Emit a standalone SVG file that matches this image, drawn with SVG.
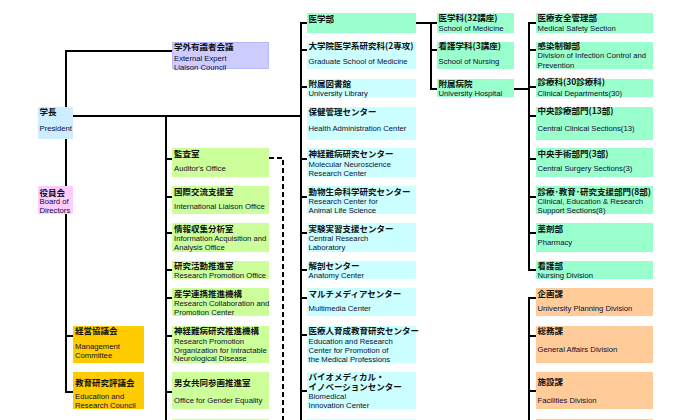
<svg xmlns="http://www.w3.org/2000/svg" width="700" height="420" viewBox="0 0 700 420">
<style>
.jp{font-family:"Noto Sans CJK JP","Noto Sans CJK SC",sans-serif;font-size:8.5px;font-weight:bold;fill:#111}
.en{font-family:"Liberation Sans",Arial,sans-serif;font-size:7.7px;fill:#0d0d33}
.lav{fill:#ccccff;stroke:#b8b8ff;stroke-width:1}
.pres{fill:#cceeff}
.pink{fill:#ffccff}
.gold{fill:#ffcc00}
.grn{fill:#ccff99}
.cyan{fill:#ccffff}
.mint{fill:#99ffcc}
.peach{fill:#ffcc99}
.ln{fill:none;stroke:#000;stroke-width:2}
.dash{fill:none;stroke:#000;stroke-width:2;stroke-dasharray:5,3}
</style>
<rect width="700" height="420" fill="#fff"/>
<g id="connectors">
<path class="ln" d="M66,107 V51 H172"/>
<path class="ln" d="M73,116 H301"/>
<path class="ln" d="M66,139 V392 H73 M66,336 H73"/>
<path class="ln" d="M166,116 V420 M166,159 H172 M166,197 H172 M166,233 H172 M166,270 H172 M166,298 H172 M166,336 H172 M166,392 H172"/>
<path class="dash" d="M269,158 H283 V420"/>
<path class="ln" d="M307,23 H301 V420 M301,50 H307 M301,87 H307 M301,159 H307 M301,197 H307 M301,233 H307 M301,270 H307 M301,298 H307 M301,335 H307 M301,391 H307"/>
<path class="ln" d="M416,23 H437 M431,23 V89 H437 M431,50 H437"/>
<path class="ln" d="M514,89 H529 M536,23 H529 V270 H536 M529,50 H536 M529,87 H536 M529,116 H536 M529,159 H536 M529,197 H536 M529,233 H536"/>
<path class="ln" d="M536,298 H529 V420 M529,336 H536 M529,391 H536"/>
</g>
<g id="n-gakugai"><rect class="lav" x="172.5" y="42.5" width="96" height="26"/><text class="jp" x="174" y="49.5">学外有識者会議</text><text class="en" x="174" y="61">External Expert</text><text class="en" x="174" y="69.5">Liaison Council</text></g>
<g id="n-president"><rect class="pres" x="38" y="107" width="35" height="32"/><text class="jp" x="39.5" y="115">学長</text><text class="en" x="39.5" y="131">President</text></g>
<g id="n-board"><rect class="pink" x="38" y="186" width="35" height="28"/><text class="jp" x="39.5" y="195.5">役員会</text><text class="en" x="39.5" y="203.5">Board of</text><text class="en" x="39.5" y="212.5">Directors</text></g>
<g id="n-keiei"><rect class="gold" x="73" y="326" width="71" height="37"/><text class="jp" x="75" y="334">経営協議会</text><text class="en" x="75" y="348.5">Management</text><text class="en" x="75" y="357.5">Committee</text></g>
<g id="n-kyoiku"><rect class="gold" x="73" y="372" width="71" height="37"/><text class="jp" x="75" y="385.5">教育研究評議会</text><text class="en" x="75" y="398.5">Education and</text><text class="en" x="75" y="408">Research Council</text></g>

<g id="n-kansa"><rect class="grn" x="172" y="148" width="97" height="29"/><text class="jp" x="174" y="157">監査室</text><text class="en" x="174" y="171">Auditor's Office</text></g>
<g id="n-kokusai"><rect class="grn" x="172" y="186" width="97" height="28"/><text class="jp" x="174" y="195">国際交流支援室</text><text class="en" x="174" y="208.5">International Liaison Office</text></g>
<g id="n-joho"><rect class="grn" x="172" y="223" width="97" height="29"/><text class="jp" x="174" y="232">情報収集分析室</text><text class="en" x="174" y="241">Information Acquisition and</text><text class="en" x="174" y="250">Analysis Office</text></g>
<g id="n-kenkyu"><rect class="grn" x="172" y="261" width="97" height="18"/><text class="jp" x="174" y="269">研究活動推進室</text><text class="en" x="174" y="278">Research Promotion Office</text></g>
<g id="n-sangaku"><rect class="grn" x="172" y="288" width="97" height="28"/><text class="jp" x="174" y="297">産学連携推進機構</text><text class="en" x="174" y="306">Research Collaboration and</text><text class="en" x="174" y="315">Promotion Center</text></g>
<g id="n-shinkei-suishin"><rect class="grn" x="172" y="326" width="97" height="37"/><text class="jp" x="174" y="334">神経難病研究推進機構</text><text class="en" x="174" y="344">Research Promotion</text><text class="en" x="174" y="352.5">Organization for Intractable</text><text class="en" x="174" y="361">Neurological Disease</text></g>
<g id="n-danjo"><rect class="grn" x="172" y="372" width="97" height="37"/><text class="jp" x="174" y="385.5">男女共同参画推進室</text><text class="en" x="174" y="403">Office for Gender Equality</text></g>
<g id="n-green-next"><rect class="grn" x="172" y="419" width="97" height="10"/></g>

<g id="n-igakubu"><rect class="mint" x="307" y="13" width="109" height="20"/><text class="jp" x="308.5" y="22">医学部</text></g>
<g id="n-daigakuin"><rect class="cyan" x="307" y="42" width="109" height="27"/><text class="jp" x="308.5" y="49">大学院医学系研究科(2専攻)</text><text class="en" x="308.5" y="63.5">Graduate School of Medicine</text></g>
<g id="n-library"><rect class="cyan" x="307" y="79" width="109" height="18"/><text class="jp" x="308.5" y="86.5">附属図書館</text><text class="en" x="308.5" y="95.5">University Library</text></g>
<g id="n-hoken"><rect class="cyan" x="307" y="107" width="109" height="33"/><text class="jp" x="308.5" y="115">保健管理センター</text><text class="en" x="308.5" y="130.5">Health Administration Center</text></g>
<g id="n-shinkei"><rect class="cyan" x="307" y="148" width="109" height="29"/><text class="jp" x="308.5" y="157">神経難病研究センター</text><text class="en" x="308.5" y="167">Molecular Neuroscience</text><text class="en" x="308.5" y="176">Research Center</text></g>
<g id="n-dobutsu"><rect class="cyan" x="307" y="186" width="109" height="28"/><text class="jp" x="308.5" y="195">動物生命科学研究センター</text><text class="en" x="308.5" y="203.5">Research Center for</text><text class="en" x="308.5" y="212.5">Animal Life Science</text></g>
<g id="n-jikken"><rect class="cyan" x="307" y="223" width="109" height="29"/><text class="jp" x="308.5" y="232">実験実習支援センター</text><text class="en" x="308.5" y="241">Central Research</text><text class="en" x="308.5" y="250">Laboratory</text></g>
<g id="n-kaibo"><rect class="cyan" x="307" y="261" width="109" height="18"/><text class="jp" x="308.5" y="269">解剖センター</text><text class="en" x="308.5" y="278">Anatomy Center</text></g>
<g id="n-multimedia"><rect class="cyan" x="307" y="288" width="109" height="28"/><text class="jp" x="308.5" y="297">マルチメディアセンター</text><text class="en" x="308.5" y="310.5">Multimedia Center</text></g>
<g id="n-iryojin"><rect class="cyan" x="307" y="326" width="109" height="37"/><text class="jp" x="308.5" y="334">医療人育成教育研究センター</text><text class="en" x="308.5" y="344">Education and Research</text><text class="en" x="308.5" y="353">Center for Promotion of</text><text class="en" x="308.5" y="362">the Medical Professions</text></g>
<g id="n-bio"><rect class="cyan" x="307" y="372" width="109" height="37"/><text class="jp" x="308.5" y="379.5">バイオメディカル・</text><text class="jp" x="308.5" y="390">イノベーションセンター</text><text class="en" x="308.5" y="399">Biomedical</text><text class="en" x="308.5" y="408">Innovation Center</text></g>
<g id="n-cyan-next"><rect class="cyan" x="307" y="419" width="109" height="10"/></g>

<g id="n-igakuka"><rect class="mint" x="437" y="13" width="77" height="20"/><text class="jp" x="438.5" y="21">医学科(32講座)</text><text class="en" x="438.5" y="30.5">School of Medicine</text></g>
<g id="n-kango"><rect class="mint" x="437" y="42" width="77" height="27"/><text class="jp" x="438.5" y="49">看護学科(3講座)</text><text class="en" x="438.5" y="63.5">School of Nursing</text></g>
<g id="n-hospital"><rect class="mint" x="437" y="79" width="77" height="18"/><text class="jp" x="438.5" y="86.5">附属病院</text><text class="en" x="438.5" y="95.5">University Hospital</text></g>

<g id="n-anzen"><rect class="mint" x="536" y="13" width="117" height="20"/><text class="jp" x="537.5" y="20.5">医療安全管理部</text><text class="en" x="537.5" y="30.5">Medical Safety Section</text></g>
<g id="n-kansen"><rect class="mint" x="536" y="42" width="117" height="27"/><text class="jp" x="537.5" y="49">感染制御部</text><text class="en" x="537.5" y="58">Division of Infection Control and</text><text class="en" x="537.5" y="67.5">Prevention</text></g>
<g id="n-shinryoka"><rect class="mint" x="536" y="79" width="117" height="18"/><text class="jp" x="537.5" y="85">診療科(30診療科)</text><text class="en" x="537.5" y="95.5">Clinical Departments(30)</text></g>
<g id="n-chuo-shinryo"><rect class="mint" x="536" y="107" width="117" height="33"/><text class="jp" x="537.5" y="114">中央診療部門(13部)</text><text class="en" x="537.5" y="130.5">Central Clinical Sections(13)</text></g>
<g id="n-chuo-shujutsu"><rect class="mint" x="536" y="148" width="117" height="29"/><text class="jp" x="537.5" y="157">中央手術部門(3部)</text><text class="en" x="537.5" y="170.5">Central Surgery Sections(3)</text></g>
<g id="n-shien"><rect class="mint" x="536" y="186" width="117" height="28"/><text class="jp" x="537.5" y="195">診療･教育･研究支援部門(8部)</text><text class="en" x="537.5" y="203.5">Clinical, Education &amp; Research</text><text class="en" x="537.5" y="212.5">Support Sections(8)</text></g>
<g id="n-yakuzai"><rect class="mint" x="536" y="223" width="117" height="29"/><text class="jp" x="537.5" y="232">薬剤部</text><text class="en" x="537.5" y="245">Pharmacy</text></g>
<g id="n-kangobu"><rect class="mint" x="536" y="261" width="117" height="18"/><text class="jp" x="537.5" y="269">看護部</text><text class="en" x="537.5" y="278">Nursing Division</text></g>

<g id="n-kikaku"><rect class="peach" x="536" y="288" width="117" height="28"/><text class="jp" x="537.5" y="296.5">企画課</text><text class="en" x="537.5" y="310.5">University Planning Division</text></g>
<g id="n-somu"><rect class="peach" x="536" y="326" width="117" height="37"/><text class="jp" x="537.5" y="334">総務課</text><text class="en" x="537.5" y="352">General Affairs Division</text></g>
<g id="n-shisetsu"><rect class="peach" x="536" y="372" width="117" height="37"/><text class="jp" x="537.5" y="385">施設課</text><text class="en" x="537.5" y="403">Facilities Division</text></g>
<g id="n-peach-next"><rect class="peach" x="536" y="419" width="117" height="10"/></g>
</svg>
